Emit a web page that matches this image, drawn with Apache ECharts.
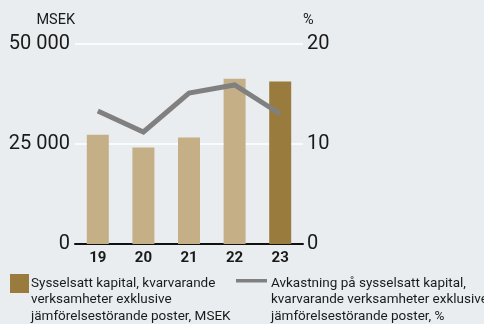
<!DOCTYPE html>
<html>
<head>
<meta charset="utf-8">
<script src="https://cdn.jsdelivr.net/npm/echarts@6/dist/echarts.min.js"></script>
<style>
  html, body { margin: 0; padding: 0; background: #e9edf0; }
  #chart { width: 484px; height: 324px; }
</style>
</head>
<body>
<div id="chart"></div>
<script>
// Years (two-digit) on the category axis
const years = ['19', '20', '21', '22', '23'];
// Employed capital, continuing operations excl. items affecting comparability, MSEK
const capitalMsek = [27300, 24100, 26600, 41300, 40600];
// Return on employed capital, %
const returnPct = [13.3, 11.2, 15.1, 15.9, 13.0];

const capitalName = 'Sysselsatt kapital, kvarvarande\nverksamheter exklusive\njämförelsestörande poster, MSEK';
const returnName = 'Avkastning på sysselsatt kapital,\nkvarvarande verksamheter exklusive\njämförelsestörande poster, %';

const FONT = 'Roboto, "Liberation Sans", Arial, sans-serif';
const TEXT = '#1a1a1a';
const BAR = '#c5af87';
const BAR_LAST = '#9a7b3e';
const LINE = '#808080';

const chart = echarts.init(document.getElementById('chart'), null, { renderer: 'canvas' });

const fmtThousands = v => String(v).replace(/\B(?=(\d{3})+(?!\d))/g, ' ');

chart.setOption({
  backgroundColor: '#e9edf0',
  animation: false,
  textStyle: { fontFamily: FONT, color: TEXT },
  grid: { left: 75, right: 181, top: 44, bottom: 80, containLabel: false },
  xAxis: {
    type: 'category',
    data: years,
    axisLine: { show: true, lineStyle: { color: '#111', width: 2 } },
    axisTick: { show: false },
    axisLabel: { fontFamily: FONT, fontWeight: 'bold', fontSize: 15, color: TEXT, margin: 7 }
  },
  yAxis: [
    {
      type: 'value', min: 0, max: 50000, interval: 25000,
      name: 'MSEK', nameLocation: 'end', nameGap: 16,
      nameTextStyle: { fontFamily: FONT, fontSize: 14.5, color: TEXT, align: 'right' },
      axisLine: { show: false }, axisTick: { show: false },
      axisLabel: { fontFamily: FONT, fontSize: 20, color: TEXT, margin: 5, formatter: v => fmtThousands(v) },
      splitLine: { show: true, lineStyle: { color: '#ffffff', width: 1.5 } }
    },
    {
      type: 'value', min: 0, max: 20, interval: 10, position: 'right',
      name: '%', nameLocation: 'end', nameGap: 16,
      nameTextStyle: { fontFamily: FONT, fontSize: 14.5, color: TEXT, align: 'left' },
      axisLine: { show: false }, axisTick: { show: false },
      axisLabel: { fontFamily: FONT, fontSize: 20, color: TEXT, margin: 4 },
      splitLine: { show: false }
    }
  ],
  series: [
    {
      name: capitalName,
      type: 'bar',
      barWidth: 22,
      yAxisIndex: 0,
      z: 2,
      data: capitalMsek.map((v, i) => ({
        value: v,
        itemStyle: { color: i === capitalMsek.length - 1 ? BAR_LAST : BAR }
      }))
    },
    {
      name: returnName,
      type: 'line',
      yAxisIndex: 1,
      data: returnPct,
      symbol: 'none',
      z: 3,
      lineStyle: { color: LINE, width: 5, join: 'miter' }
    }
  ],
  graphic: [
    { type: 'rect', left: 10, top: 274, shape: { width: 19, height: 19 }, style: { fill: BAR_LAST } },
    {
      type: 'text', left: 31, top: 275,
      style: { text: capitalName, font: '13.5px ' + FONT, fill: TEXT, lineHeight: 16.5 }
    },
    { type: 'rect', left: 236, top: 279, shape: { width: 31, height: 3.5 }, style: { fill: LINE } },
    {
      type: 'text', left: 271, top: 275,
      style: { text: returnName, font: '13.5px ' + FONT, fill: TEXT, lineHeight: 16.5 }
    }
  ]
});
</script>
</body>
</html>
